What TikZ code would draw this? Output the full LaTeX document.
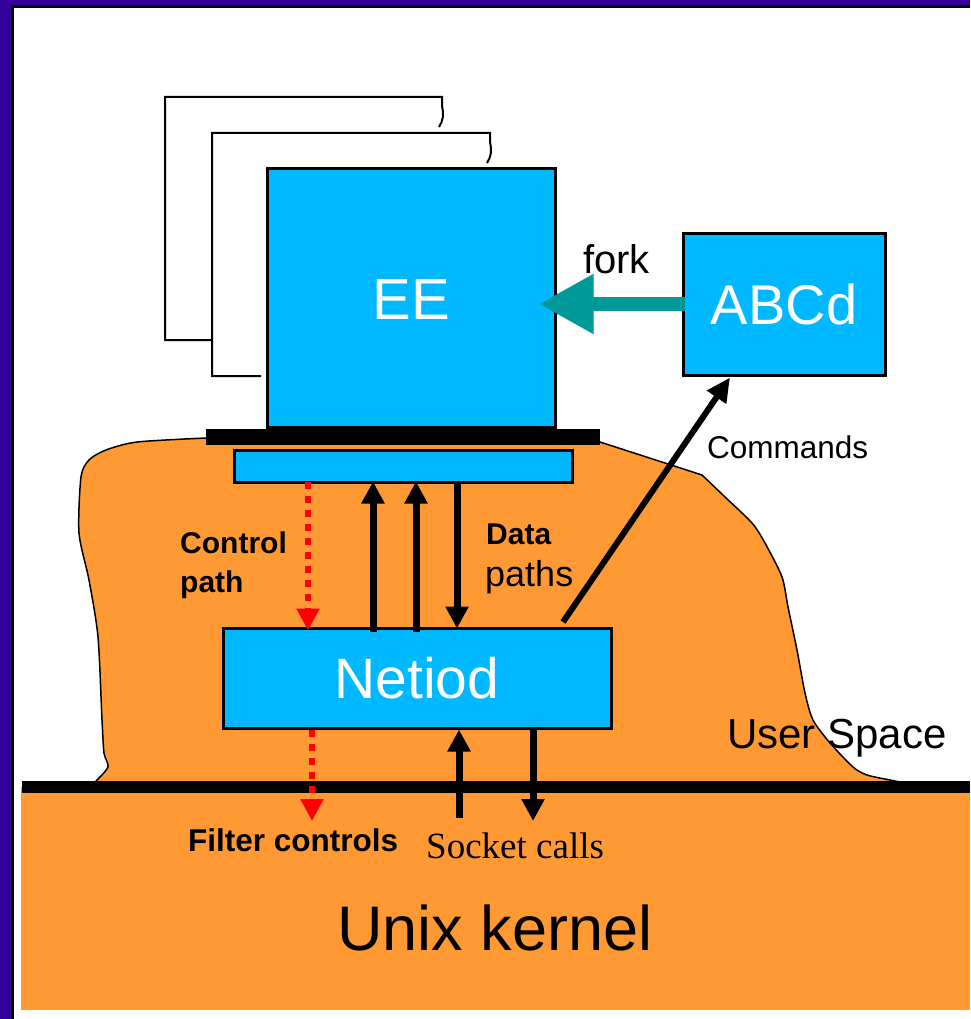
\documentclass[tikz,border=0pt]{standalone}
\usepackage{fontspec}
\setmainfont{Liberation Sans}
\newfontfamily\timesfont{Liberation Serif}
\usetikzlibrary{arrows.meta}
\definecolor{frameviolet}{HTML}{330099}
\definecolor{boxblue}{HTML}{00B8FF}
\definecolor{spaceorange}{HTML}{FF9933}
\definecolor{forkteal}{HTML}{009999}
\tikzset{
  box/.style={draw=black, line width=3pt, fill=boxblue, inner sep=0pt},
  boxlabel/.style={text=white, inner sep=0pt, anchor=base},
  txt/.style={inner sep=0pt, anchor=base west, text=black},
  blackarrow/.style={draw=black, line width=7pt, -{Triangle[length=22pt,width=22pt]}},
  cmdarrow/.style={draw=black, line width=6pt, -{Triangle[length=24pt,width=22pt]}},
  ctrlarrow/.style={draw=red, line width=6pt, dash pattern=on 7pt off 7pt, -{Triangle[length=22pt,width=22pt]}},
  forkarrow/.style={draw=forkteal, line width=14pt, -{Triangle[length=55pt,width=56pt]}},
  ghost/.style={draw=black, line width=2pt},
}
\begin{document}
\begin{tikzpicture}[x=1pt,y=-1pt]
\useasboundingbox (0,0) rectangle (970,1019);
% frame
\fill[white] (0,0) rectangle (970,1019);
\fill[frameviolet] (0,0) rectangle (970,5);
\fill[frameviolet] (0,0) rectangle (11,1019);
\fill[black] (11,5) rectangle (970,8);
\fill[black] (11,5) rectangle (14,1019);
% user space blob
\draw[fill=spaceorange, line width=1.5pt]
  plot[smooth, tension=0.45] coordinates {(96,781) (108,767) (104,753) (102,720) (98,637) (89,580) (79,533) (81,477) (89,460) (106,450) (137,442) (206,438)}
  -- (600,442)
  -- plot[smooth, tension=0.45] coordinates {(702,475) (725,497) (752,523) (765,543) (782,577) (788,607) (797,650) (805,693) (813,720) (830,743) (853,767) (867,775) (890,780) (905,783)}
  -- (905,788) -- (96,788) -- cycle;
% kernel
\fill[spaceorange] (21,787) rectangle (970,1010);
\fill[black] (22,781) rectangle (970,793);
% stacked EE outlines
\draw[ghost] (212,340) -- (165,340) -- (165,97) -- (442,97) -- (442,106) .. controls (444,115) and (443,121) .. (439,127);
\draw[ghost] (261,376) -- (212,376) -- (212,133) -- (490,133) -- (490,142) .. controls (492,151) and (491,157) .. (487,163);
% boxes
\node[box, minimum width=288pt, minimum height=258pt] (ee) at (411,298) {};
\node[box, minimum width=202pt, minimum height=142pt] (abcd) at (784,304) {};
\node[box, minimum width=388pt, minimum height=100pt] (netiod) at (417,678) {};
\node[fill=black, inner sep=0pt, minimum width=394pt, minimum height=16pt] (plate) at (403,437) {};
\node[box, minimum width=338pt, minimum height=32pt] (bar) at (403,466) {};
% labels inside boxes
\node[boxlabel, font=\fontsize{58}{60}\selectfont] at (411,319) {EE};
\node[boxlabel, font=\fontsize{56}{58}\selectfont] at (784,324) {ABCd};
\node[boxlabel, font=\fontsize{57}{59}\selectfont] at (417,698) {Netiod};
% x positions of connectors
\coordinate (xc1) at (308,0);
\coordinate (xd1) at (373,0);
\coordinate (xd2) at (416,0);
\coordinate (xd3) at (457,0);
\coordinate (xc2) at (312,0);
\coordinate (xs1) at (459,0);
\coordinate (xs2) at (533,0);
\coordinate (cmdstart) at (563,622);
\coordinate (xcmd) at (730,0);
\coordinate (kfilter) at (312,821);
\coordinate (ksockup) at (459,818);
\coordinate (ksockdown) at (533,821);
% fork
\draw[forkarrow, shorten <=-3pt, shorten >=-18pt] (abcd.west) -- (abcd.west -| ee.east);
% control path
\draw[ctrlarrow] ([yshift=2pt]bar.south -| xc1) -- ([yshift=-4pt]netiod.north -| xc1);
% data paths
\draw[blackarrow] ([yshift=-5pt]netiod.north -| xd1) -- ([yshift=2pt]bar.south -| xd1);
\draw[blackarrow] ([yshift=-5pt]netiod.north -| xd2) -- ([yshift=2pt]bar.south -| xd2);
\draw[blackarrow] (bar.south -| xd3) -- ([yshift=-2pt]netiod.north -| xd3);
% commands
\draw[cmdarrow] (cmdstart) -- ([yshift=-1pt]abcd.south -| xcmd);
% below netiod
\draw[ctrlarrow] (netiod.south -| xc2) -- (kfilter);
\draw[blackarrow] (ksockup) -- (netiod.south -| xs1);
\draw[blackarrow] (netiod.south -| xs2) -- (ksockdown);
% texts
\node[txt, font=\fontsize{40}{44}\selectfont] at (583,273) {fork};
\node[txt, font=\fontsize{31.5}{34}\selectfont] at (707,458) {Commands};
\node[txt, font=\bfseries\fontsize{30}{34}\selectfont] at (180,553) {Control};
\node[txt, font=\bfseries\fontsize{30}{34}\selectfont] at (180,592) {path};
\node[txt, font=\bfseries\fontsize{30}{34}\selectfont] at (486,544) {Data};
\node[txt, font=\fontsize{36}{40}\selectfont] at (485,586) {paths};
\node[txt, font=\fontsize{42}{46}\selectfont] at (727,748) {User Space};
\node[txt, font=\bfseries\fontsize{31.5}{34}\selectfont] at (188,851) {Filter controls};
\node[txt, font=\timesfont\fontsize{37}{40}\selectfont] at (426,858) {Socket calls};
\node[txt, font=\fontsize{63}{66}\selectfont] at (337,950) {Unix kernel};
\end{tikzpicture}
\end{document}
